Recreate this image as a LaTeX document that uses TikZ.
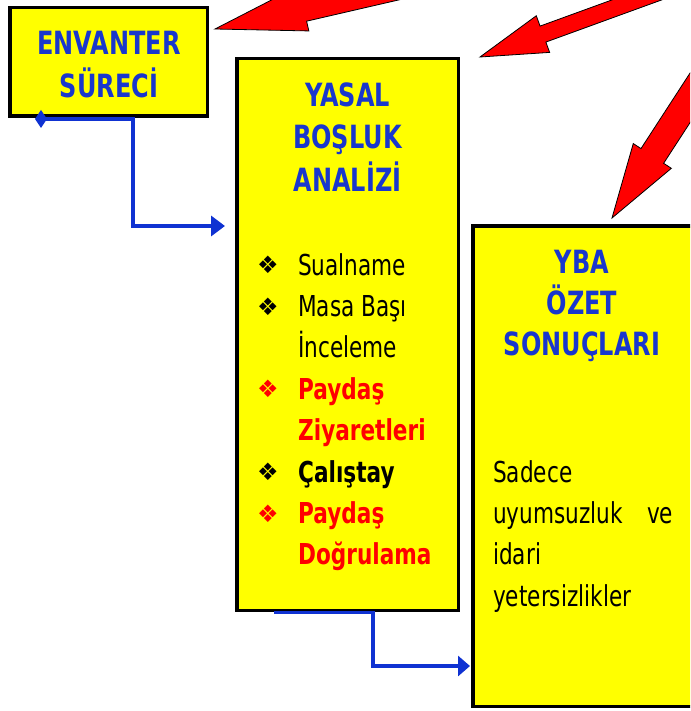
\documentclass[tikz,border=0pt]{standalone}
\usepackage{fontspec}
\setmainfont{DejaVu Sans}[FakeStretch=0.75]
\newfontfamily\dingfont{DejaVu Sans}
\usepackage{xcolor}
\definecolor{TitleBlue}{RGB}{25,55,205}
\definecolor{LinkBlue}{RGB}{15,50,210}
\definecolor{BoxYellow}{RGB}{255,255,0}
\usetikzlibrary{arrows.meta, calc}

\begin{document}
\begin{tikzpicture}[x=1pt,y=-1pt,
	box/.style={rectangle,draw=black,line width=3.5pt,fill=BoxYellow,inner sep=0pt},
	title/.style={align=center,text=TitleBlue,font=\fontsize{32}{42.5}\selectfont\bfseries,anchor=base},
	itemk/.style={text=black,font=\fontsize{28.8}{41.4}\selectfont},
	itemb/.style={text=black,font=\fontsize{28.8}{41.4}\selectfont\bfseries},
	itemr/.style={text=red,font=\fontsize{28.8}{41.4}\selectfont\bfseries},
	link/.style={draw=LinkBlue,line width=3.5pt},
	bigarrow/.style={fill=red,draw=black,line width=0.8pt}]
\useasboundingbox (0,0) rectangle (690,711);
\clip (0,0) rectangle (690,711);
\fill[white] (0,0) rectangle (690,711);

% boxes
\node[box,minimum width=197.5pt,minimum height=108.5pt] (envanter) at (108.5,62) {};
\node[box,minimum width=221.5pt,minimum height=551.5pt] (yasal) at (347.5,334.5) {};
\node[box,minimum width=250pt,minimum height=480.5pt] (ozet) at (597.75,466) {};

% titles (base = last line)
\node[title] (tenv) at (109,97.5) {ENVANTER\\SÜRECİ};
\node[title] (tyas) at (347.5,191.5) {YASAL\\BOŞLUK\\ANALİZİ};
\node[title,font=\fontsize{32}{41}\selectfont\bfseries] (toz) at (582,355) {YBA\\ÖZET\\SONUÇLARI};

% list of methods
\foreach \txt/\st/\bul [count=\k from 0] in {Sualname/itemk/1, Masa Başı/itemk/1,
	İnceleme/itemk/0, Paydaş/itemr/1, Ziyaretleri/itemr/0, Çalıştay/itemb/1,
	Paydaş/itemr/1, Doğrulama/itemr/0}{
	\node[\st,anchor=base west,inner sep=0pt] (item\k) at (298,275+41.4*\k) {\txt};
	\ifnum\bul=1 \node[\st,font=\dingfont\fontsize{24}{24}\selectfont,inner sep=0pt] (bul\k) at (268,265+41.4*\k) {❖};\fi
}

\node[itemk,anchor=base west,align=left,text width=180pt,inner sep=0pt] (sonuc) at (493,482)
	{Sadece\\uyumsuzluk\hfill ve\\idari\\yetersizlikler};

% blue connectors
\coordinate (e0) at (35,119);
\coordinate (e1) at (133,226);
\draw[link,{Diamond[length=12pt,width=18pt]}-{Triangle[length=14pt,width=20pt]},shorten >=10pt]
	(e0) -| (e1) -- (e1 -| yasal.west);
\coordinate (b0) at (274,612.5);
\coordinate (b1) at (373,666);
\draw[link,-{Triangle[length=12pt,width=20pt]},shorten >=1pt] (b0) -| (b1) -- (b1 -| ozet.west);

% red block arrows
\foreach \tx/\ty/\ang/\hl/\hw/\sw in {215/29/13/91/23/13, 480/57/20/67/19.5/8.5, 612/218/57/74/22.7/13.5}
	\draw[bigarrow,shift={(\tx,\ty)},rotate=\ang] (0,0) -- (\hl,\hw) -- (\hl,\sw) -- (400,\sw)
		-- (400,-\sw) -- (\hl,-\sw) -- (\hl,-\hw) -- cycle;
\end{tikzpicture}
\end{document}
